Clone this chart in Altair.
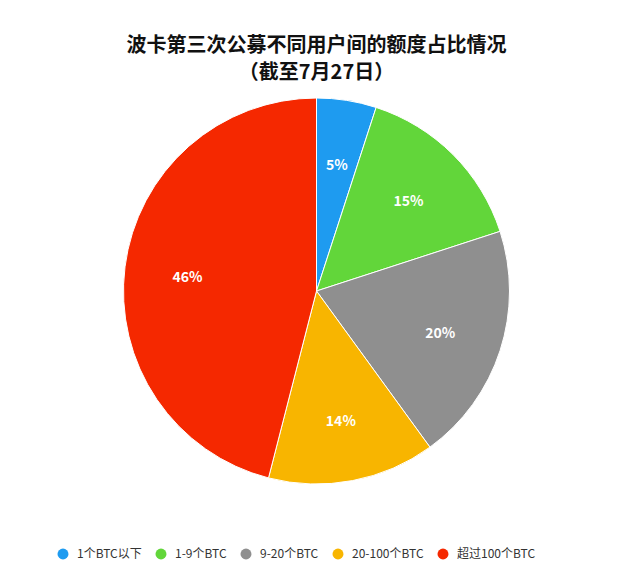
import altair as alt
import pandas as pd

categories = ["1个BTC以下", "1-9个BTC", "9-20个BTC", "20-100个BTC", "超过100个BTC"]
values = [5, 15, 20, 14, 46]
labels = ["5%", "15%", "20%", "14%", "46%"]
colors = ["#1E9BF0", "#62D63A", "#8F8F8F", "#F8B500", "#F52800"]

df = pd.DataFrame({"cat": categories, "val": values, "lab": labels, "idx": list(range(len(values)))})

FONT = "Noto Sans CJK SC"

base = alt.Chart(df).encode(
    theta=alt.Theta("val:Q", stack=True),
    order=alt.Order("idx:Q"),
)

pie = base.mark_arc(outerRadius=193, stroke="white", strokeWidth=1).encode(
    color=alt.Color(
        "cat:N",
        scale=alt.Scale(domain=categories, range=colors),
        sort=categories,
        legend=alt.Legend(
            title=None, orient="none", legendX=49, legendY=452, direction="horizontal",
            symbolType="circle", symbolSize=120, labelFontSize=12, labelFont=FONT,
            labelColor="#333333", columnPadding=13, symbolStrokeWidth=0, labelOffset=8,
        ),
    )
)
text = base.mark_text(radius=130, fontSize=14, fontWeight="bold", font=FONT, dy=3).encode(
    text="lab:N", color=alt.value("white")
)

chart = (
    alt.layer(pie, text)
    .properties(
        width=617,
        height=390,
        title=alt.TitleParams(
            text=["波卡第三次公募不同用户间的额度占比情况", "（截至7月27日）"],
            fontSize=20, font=FONT, fontWeight="bold", color="#111111",
            anchor="middle", lineHeight=27, offset=13,
        ),
        padding={"left": 0, "right": 0, "top": 28, "bottom": 0},
    )
    .configure_view(stroke=None)
)

chart.save("out.html", embed_options={"renderer": "svg", "actions": False})
